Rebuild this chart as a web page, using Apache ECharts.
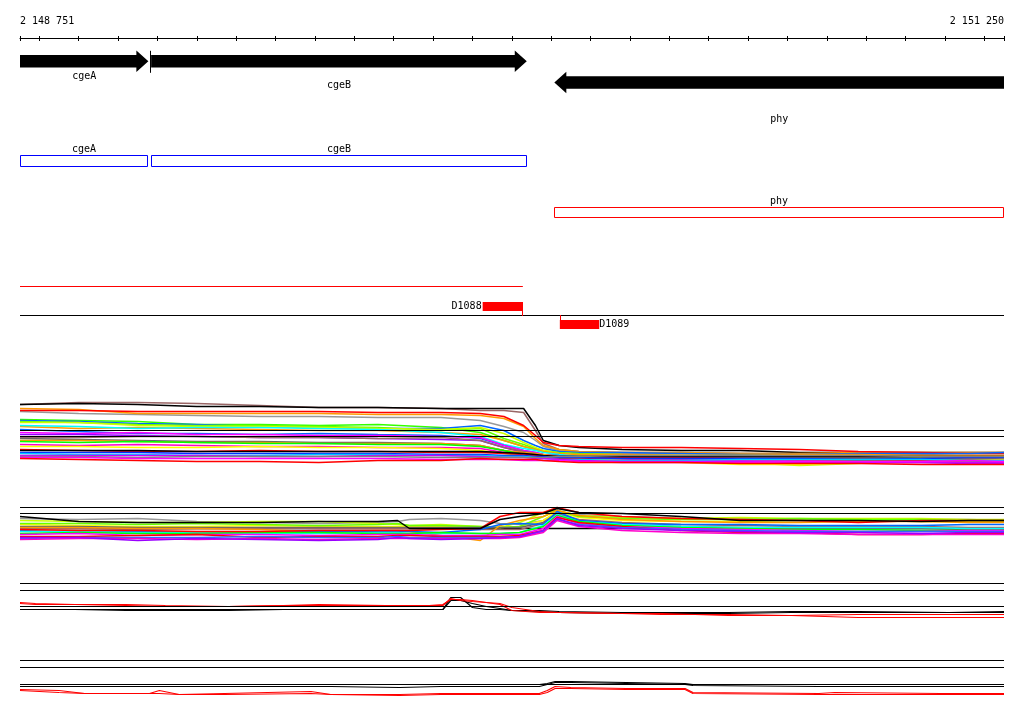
<!DOCTYPE html>
<html><head><meta charset="utf-8">
<script src="https://cdn.jsdelivr.net/npm/echarts@6/dist/echarts.min.js"></script>
<style>html,body{margin:0;padding:0;background:#fff}#c{width:1024px;height:714px}</style>
</head><body><div id="c"></div><script>
// ---------- axis ----------
const X_MIN = 2148751, X_MAX = 2151250;
const tickPositions = [2148751, 2148800, 2148900, 2149000, 2149100, 2149200, 2149300, 2149400, 2149500, 2149600, 2149700, 2149800, 2149900, 2150000, 2150100, 2150200, 2150300, 2150400, 2150500, 2150600, 2150700, 2150800, 2150900, 2151000, 2151100, 2151200, 2151250];
const tickLabels = [2148751, 2151250];

// ---------- genes ----------
const geneNames = ['cgeA', 'cgeB', 'phy'];
const geneStarts = [2148751, 2149084, 2150108];
const geneEnds = [2149077, 2150038, 2151250];
const geneStrands = [1, 1, -1];

// ---------- features ----------
const featNames = ['D1088', 'D1089'];
const featStarts = [2149926, 2150122];
const featEnds = [2150028, 2150222];
const featStrands = [1, -1];
const spanStarts = [2148751];
const spanEnds = [2150028];

// ---------- panel 1 ----------
const p1Pos = [2148751, 2148900, 2149050, 2149200, 2149360, 2149510, 2149660, 2149820, 2149920, 2149980, 2150030, 2150060, 2150080, 2150120, 2150170, 2150280, 2150430, 2150580, 2150730, 2150880, 2151040, 2151160, 2151250];
const p1Refs = [40, 34];
const p1Black   = [66,67,66,64,64,63,63,62,62,62,62,45,30,25,23,21,20,20,18,18,18,18,18];
const p1Brown   = [66,68,68,67,65,63,63,62,60,60,58,40,27,21,19,18,18,17,17,16,16,15,15];
const p1Red     = [60,60,59,59,59,59,58,58,57,54,45,35,28,25,24,23,23,22,21,19,18,17,17];
const p1Orange  = [62,61,57,57,57,57,56,56,55,52,44,32,25,21,19,18,18,17,17,18,18,18,18];
const p1Gray    = [59,57,56,55,54,54,53,53,50,44,38,30,24,20,18,17,17,17,16,15,15,15,15];
const p1Blue    = [50,49,47,46,44,43,42,42,45,40,30,25,22,19,18,18,17,16,16,17,17,17,18];
const p1Green   = [49,48,46,45,45,44,43,40,42,32,26,22,20,18,17,16,15,15,15,14,14,13,13];
const p1YGreen  = [48,48,45,44,44,43,42,41,43,37,28,23,20,17,15,14,12,8,5,7,12,14,14];
const p1Cyan    = [45,44,42,43,43,42,41,38,34,26,22,20,18,16,14,13,12,12,13,13,12,11,11];
const p1Magenta = [38,37,38,36,36,35,35,34,33,25,20,18,16,14,13,12,12,11,10,10,9,9,10];
const p1Purple  = [36,36,35,34,33,33,32,31,30,23,18,16,14,12,11,10,10,9,9,8,8,7,7];
const p1DGray   = [32,31,30,29,29,28,28,27,25,20,17,15,14,13,13,12,12,12,12,12,12,11,11];
const p1Green2  = [29,28,29,28,27,27,26,26,24,20,16,14,13,11,10,9,9,9,10,10,10,9,9];
const p1Orange2 = [30,30,29,28,28,27,27,27,25,20,18,17,16,14,14,15,15,15,15,15,14,14,14];
const p1Magenta2= [26,25,26,25,24,24,23,23,22,18,16,15,14,13,12,11,11,10,10,9,9,8,8];
const p1Yellow  = [24,24,23,23,24,23,23,22,20,17,15,14,13,12,11,10,8,6,6,8,10,10,11];
const p1Black2  = [20,20,20,19,19,19,19,19,19,18,17,16,15,14,14,14,14,14,14,14,14,14,14];
const p1Red2    = [21,20,19,19,20,19,19,18,18,17,16,15,13,12,12,13,13,12,11,11,10,10,10];
const p1Blue2   = [18,18,18,17,17,17,17,16,16,15,15,14,14,13,13,12,12,12,12,11,12,13,13];
const p1Cyan2   = [17,16,16,15,15,16,16,15,15,14,14,13,12,11,11,10,10,11,11,11,11,10,10];
const p1Purple2 = [15,15,15,15,14,14,15,15,14,13,13,12,12,11,10,9,9,9,8,8,8,8,8];
const p1Gray2   = [14,14,13,14,14,14,14,13,13,13,13,13,13,14,14,15,15,15,15,15,14,14,14];
const p1Red3    = [12,11,10,9,9,8,10,10,12,11,11,11,10,9,8,8,8,7,7,7,6,6,6];
const p1Magenta3= [13,13,12,12,12,12,12,11,11,11,10,10,10,10,9,8,8,8,9,9,9,10,9];
const p1Orange3 = [44,42,43,42,41,40,40,38,36,30,24,21,19,17,16,16,15,15,16,16,15,15,15];
const p1Blue3   = [41,39,37,37,36,37,36,35,32,25,20,18,16,15,14,14,13,13,13,12,12,12,12];
const p1Green3  = [51,50,49,46,46,45,46,43,38,30,24,21,19,16,15,14,14,14,13,13,13,13,13];
const p1Brown2  = [33,33,34,34,33,33,32,33,30,23,19,17,15,13,13,12,13,13,13,13,12,12,12];

// ---------- panel 2 ----------
const p2Pos = [2148751, 2148900, 2149050, 2149200, 2149360, 2149510, 2149660, 2149710, 2149740, 2149820, 2149920, 2149970, 2150020, 2150080, 2150115, 2150170, 2150280, 2150430, 2150580, 2150730, 2150880, 2151040, 2151160, 2151250];
const p2Refs = [38, 32];
const p2Black   = [29,24,23,23,23,24,24,25,17,17,17,26,29,32,37,33,32,29,25,25,25,24,25,25];
const p2Gray    = [27,26,27,24,23,22,23,24,26,27,25,22,21,25,33,31,29,27,27,26,26,26,26,25];
const p2YGreen  = [25,24,23,23,24,24,22,21,20,21,19,18,23,33,35,30,28,27,28,27,27,27,26,26];
const p2Green   = [22,22,21,22,21,20,21,22,20,20,19,18,19,29,35,29,27,26,26,27,26,26,25,25];
const p2Red     = [16,15,15,14,14,15,15,15,15,16,17,29,33,33,38,33,29,27,26,25,23,25,25,25];
const p2Orange  = [18,18,17,17,16,14,15,15,14,10,5,20,25,29,35,30,26,24,23,23,24,24,23,23];
const p2Blue    = [15,13,14,13,13,14,14,14,14,13,16,21,22,21,34,25,22,21,21,20,20,20,21,21];
const p2Cyan    = [14,14,13,13,12,12,13,13,12,12,12,12,13,20,31,24,21,19,18,18,18,18,17,17];
const p2Magenta = [11,12,10,11,11,10,11,11,11,10,10,11,11,17,29,22,19,17,16,15,14,14,15,15];
const p2Purple  = [8,8,5,7,6,5,6,8,7,6,7,8,9,15,27,20,17,15,14,13,13,12,13,13];
const p2DGray   = [19,19,18,18,18,18,18,18,18,18,18,18,18,23,32,25,21,19,18,17,17,17,16,16];
const p2Brown   = [17,17,16,17,17,17,17,17,17,17,16,16,16,22,32,26,23,21,20,19,19,19,18,18];
const p2Red2    = [9,9,10,11,8,9,9,10,10,9,9,9,10,15,28,23,19,15,13,13,11,11,12,12];
const p2Green2  = [12,13,12,12,13,13,12,12,12,13,12,12,13,19,30,24,20,18,17,16,16,15,15,15];
const p2Yellow  = [21,20,19,19,20,19,19,19,19,19,18,18,19,25,34,28,25,24,24,25,25,24,24,24];
const p2Blue2   = [7,8,8,8,9,8,8,9,8,8,8,8,9,14,26,21,18,16,15,14,14,14,14,14];
const p2Magenta2= [6,7,7,6,7,6,7,7,7,7,7,7,8,13,25,19,15,13,12,12,11,11,11,11];
const p2Black2  = [17,17,17,17,17,17,17,17,17,17,17,17,17,17,17,17,17,17,17,17,17,17,17,17];

// ---------- panel 3 ----------
const p3Pos = [2148751, 2148790, 2148890, 2149020, 2149120, 2149280, 2149420, 2149510, 2149680, 2149790, 2149825, 2149845, 2149870, 2149900, 2149935, 2149970, 2150000, 2150070, 2150120, 2150280, 2150380, 2150550, 2150710, 2150880, 2151110, 2151250];
const p3Refs = [37, 30, 14];
const p3Red    = [18,17,16,16,15,14,15,16,15,15,15,22,20,19,18,17,13,9,8,7,7,5,5,3,3,3];
const p3Red2   = [17,16,16,15,14,14,15,15,15,15,16,21,21,20,18,16,10,8,8,7,6,6,5,6,6,6];
const p3Black  = [11,11,11,11,11,11,11,11,11,11,11,23,23,13,11,11,10,10,9,8,8,8,9,9,8,9];
const p3Black2 = [11,11,11,10,10,10,11,11,11,11,11,20,20,17,14,12,10,9,8,7,7,7,8,8,8,8];

// ---------- panel 4 ----------
const p4Pos = [2148751, 2148850, 2148915, 2149080, 2149105, 2149155, 2149270, 2149490, 2149540, 2149715, 2149820, 2150000, 2150070, 2150090, 2150110, 2150150, 2150290, 2150440, 2150460, 2150780, 2150820, 2151090, 2151140, 2151250];
const p4Refs = [40, 33, 16];
const p4Red    = [11,10,7,7,10,6,7,9,6,6,7,7,7,10,14,13,12,12,8,7,8,7,7,7];
const p4Red2   = [10,8,7,7,7,6,6,7,6,5,6,6,6,8,12,12,11,11,7,6,6,6,6,6];
const p4Black  = [14,14,14,14,14,14,14,14,14,13,14,14,14,16,18,18,17,16,15,14,14,14,14,14];
const p4Black2 = [16,16,16,16,16,16,16,16,16,16,16,16,16,17,19,19,18,17,16,16,16,16,16,16];

// ================= rendering =================
const FONT_FAMILY = '"DejaVu Sans Mono", monospace';
const FONT = '10px ' + FONT_FAMILY;
const geneLabelDy = [15.2, 24.2, 36.5];

function fmt(v) { return String(v).replace(/\B(?=(\d{3})+(?!\d))/g, ' '); }
function txt(text, x, y, align) {
  return { type: 'text', style: { text: text, x: x, y: y, font: FONT, fill: '#000',
    align: align, textAlign: align, verticalAlign: 'middle', textVerticalAlign: 'middle' } };
}

function renderGene(params, api) {
  const s = api.value(0), e = api.value(1), strand = api.value(2), idx = api.value(3);
  const x1 = api.coord([s, 0])[0], x2 = api.coord([e, 0])[0];
  const top = params.coordSys.y;
  const cy = top + (strand > 0 ? 23.3 : 44.5);
  const hb = 6.3, hh = 10.8, hl = 12;
  let pts;
  if (strand > 0) pts = [[x1, cy - hb], [x2 - hl, cy - hb], [x2 - hl, cy - hh], [x2, cy], [x2 - hl, cy + hh], [x2 - hl, cy + hb], [x1, cy + hb]];
  else pts = [[x2, cy - hb], [x1 + hl, cy - hb], [x1 + hl, cy - hh], [x1, cy], [x1 + hl, cy + hh], [x1 + hl, cy + hb], [x2, cy + hb]];
  const children = [{ type: 'polygon', shape: { points: pts }, style: { fill: '#000' } }];
  if (strand > 0 && s > X_MIN) {
    const lx = Math.round(x1) - 0.5;
    children.push({ type: 'line', shape: { x1: lx, y1: cy - 10.5, x2: lx, y2: cy + 11.5 }, style: { stroke: '#000', lineWidth: 1 } });
  }
  children.push(txt(geneNames[idx], (x1 + x2) / 2, cy + geneLabelDy[idx], 'center'));
  return { type: 'group', children: children };
}

function renderBox(params, api) {
  const s = api.value(0), e = api.value(1), strand = api.value(2), idx = api.value(3);
  const x1 = Math.round(api.coord([s, 0])[0]) + 0.5, x2 = Math.round(api.coord([e, 0])[0]) - 0.5;
  const top = params.coordSys.y;
  const y = top + (strand > 0 ? 117.5 : 169.5);
  const h = strand > 0 ? 11 : 10;
  const color = strand > 0 ? '#0000ff' : '#ff0000';
  return { type: 'group', children: [
    { type: 'rect', shape: { x: x1, y: y, width: x2 - x1, height: h }, style: { fill: 'none', stroke: color, lineWidth: 1 } },
    txt(geneNames[idx], (x1 + x2) / 2, y - 6.5, 'center')
  ] };
}

function renderSpan(params, api) {
  const x1 = api.coord([api.value(0), 0])[0], x2 = api.coord([api.value(1), 0])[0];
  const top = params.coordSys.y;
  return { type: 'line', shape: { x1: x1, y1: top + 248.5, x2: x2, y2: top + 248.5 }, style: { stroke: '#ff0000', lineWidth: 1 } };
}

function renderBaseline(params, api) {
  const x1 = api.coord([api.value(0), 0])[0], x2 = api.coord([api.value(1), 0])[0];
  const top = params.coordSys.y;
  return { type: 'line', shape: { x1: x1, y1: top + 277.5, x2: x2, y2: top + 277.5 }, style: { stroke: '#000', lineWidth: 1 } };
}

function renderFeature(params, api) {
  const s = api.value(0), e = api.value(1), strand = api.value(2), idx = api.value(3);
  const x1 = api.coord([s, 0])[0], x2 = api.coord([e, 0])[0];
  const top = params.coordSys.y;
  const base = top + 277;
  const children = [];
  if (strand > 0) {
    const ry = top + 264;
    children.push({ type: 'rect', shape: { x: x1, y: ry, width: x2 - x1, height: 9 }, style: { fill: '#ff0000' } });
    const tx = Math.round(x2) - 0.5;
    children.push({ type: 'line', shape: { x1: tx, y1: ry, x2: tx, y2: base + 1 }, style: { stroke: '#ff0000', lineWidth: 1 } });
    children.push(txt(featNames[idx], x1 - 1, ry + 4.5, 'right'));
  } else {
    const ry = top + 282;
    children.push({ type: 'rect', shape: { x: x1, y: ry, width: x2 - x1, height: 9 }, style: { fill: '#ff0000' } });
    const tx = Math.round(x1) + 0.5;
    children.push({ type: 'line', shape: { x1: tx, y1: base, x2: tx, y2: ry + 9 }, style: { stroke: '#ff0000', lineWidth: 1 } });
    children.push(txt(featNames[idx], x2, ry + 4.5, 'left'));
  }
  return { type: 'group', children: children };
}

const series = [
  { type: 'custom', xAxisIndex: 0, yAxisIndex: 0, renderItem: renderGene, silent: true,
    data: geneNames.map((n, i) => [geneStarts[i], geneEnds[i], geneStrands[i], i]), encode: { x: [0, 1] } },
  { type: 'custom', xAxisIndex: 0, yAxisIndex: 0, renderItem: renderBox, silent: true,
    data: geneNames.map((n, i) => [geneStarts[i], geneEnds[i], geneStrands[i], i]), encode: { x: [0, 1] } },
  { type: 'custom', xAxisIndex: 0, yAxisIndex: 0, renderItem: renderSpan, silent: true,
    data: spanStarts.map((s, i) => [s, spanEnds[i]]), encode: { x: [0, 1] } },
  { type: 'custom', xAxisIndex: 0, yAxisIndex: 0, renderItem: renderBaseline, silent: true,
    data: [[X_MIN, X_MAX]], encode: { x: [0, 1] } },
  { type: 'custom', xAxisIndex: 0, yAxisIndex: 0, renderItem: renderFeature, silent: true,
    data: featNames.map((n, i) => [featStarts[i], featEnds[i], featStrands[i], i]), encode: { x: [0, 1] } }
];

function addPanel(axisIdx, pos, lines, refs, width) {
  lines.forEach(function (l) {
    series.push({ type: 'line', xAxisIndex: axisIdx, yAxisIndex: axisIdx, silent: true, animation: false,
      showSymbol: false, symbol: 'none', lineStyle: { color: l[1], width: width },
      data: pos.map((p, i) => [p, l[0][i]]) });
  });
  refs.forEach(function (v) {
    series.push({ type: 'line', xAxisIndex: axisIdx, yAxisIndex: axisIdx, silent: true, animation: false,
      showSymbol: false, symbol: 'none', lineStyle: { color: '#000', width: 1 }, z: 3,
      data: [[X_MIN, v], [X_MAX, v]] });
  });
}

addPanel(2, p1Pos, [
  [p1Brown, '#996666'], [p1Black, '#000000'], [p1Gray, '#999999'], [p1Orange, '#ff9900'], [p1Red, '#ff0000'],
  [p1Green3, '#33ff00'], [p1Blue, '#0066ff'], [p1Green, '#66ff00'], [p1YGreen, '#ccff00'], [p1Orange3, '#ff9900'],
  [p1Cyan, '#00ffff'], [p1Blue3, '#0066ff'], [p1Magenta, '#ff00ff'], [p1Purple, '#9900ff'], [p1Brown2, '#996666'],
  [p1DGray, '#666666'], [p1Orange2, '#ff9900'], [p1Green2, '#00ff00'], [p1Magenta2, '#ff00cc'], [p1Yellow, '#ffff00'],
  [p1Red2, '#ff0000'], [p1Black2, '#000000'], [p1Blue2, '#0033ff'], [p1Cyan2, '#00ccff'], [p1Purple2, '#cc00ff'],
  [p1Gray2, '#808080'], [p1Magenta3, '#ff00ff'], [p1Red3, '#ff0000']
], p1Refs, 1.5);

addPanel(3, p2Pos, [
  [p2Black2, '#000000'], [p2Gray, '#999999'], [p2YGreen, '#ccff00'], [p2Yellow, '#ffff00'], [p2Green, '#66ff00'],
  [p2DGray, '#666666'], [p2Brown, '#996666'], [p2Orange, '#ff9900'], [p2Blue, '#0066ff'], [p2Cyan, '#00ffff'],
  [p2Green2, '#00ff00'], [p2Magenta, '#ff00ff'], [p2Red2, '#ff0000'], [p2Blue2, '#3366ff'], [p2Magenta2, '#ff00cc'],
  [p2Purple, '#9900ff'], [p2Red, '#ff0000'], [p2Black, '#000000']
], p2Refs, 1.5);

addPanel(4, p3Pos, [
  [p3Black2, '#000000'], [p3Black, '#000000'], [p3Red2, '#ff0000'], [p3Red, '#ff0000']
], p3Refs, 1.2);

addPanel(5, p4Pos, [
  [p4Black2, '#000000'], [p4Black, '#000000'], [p4Red2, '#ff0000'], [p4Red, '#ff0000']
], p4Refs, 1.2);

const hiddenX = (gi) => ({ type: 'value', gridIndex: gi, min: X_MIN, max: X_MAX, show: false });
const option = {
  animation: false,
  backgroundColor: '#ffffff',
  grid: [
    { left: 20, right: 20, top: 38, height: 300 },
    { left: 20, right: 20, top: 38, height: 1 },
    { left: 20, right: 20, top: 395.5, height: 75 },
    { left: 20, right: 20, top: 500.5, height: 45 },
    { left: 20, right: 20, top: 575.5, height: 45 },
    { left: 20, right: 20, top: 655.5, height: 45 }
  ],
  xAxis: [
    { type: 'value', gridIndex: 0, position: 'top', min: X_MIN, max: X_MAX,
      axisLine: { show: true, onZero: false, lineStyle: { color: '#000', width: 1 } },
      axisTick: { show: true, inside: false, length: 2, customValues: tickPositions, lineStyle: { color: '#000' } },
      axisLabel: { show: true, customValues: tickLabels, formatter: fmt, margin: 12, color: '#000',
        fontFamily: FONT_FAMILY, fontSize: 10, alignMinLabel: 'left', alignMaxLabel: 'right' },
      splitLine: { show: false } },
    { type: 'value', gridIndex: 1, position: 'top', min: X_MIN, max: X_MAX,
      axisLine: { show: false, onZero: false },
      axisTick: { show: true, inside: true, length: 3, customValues: tickPositions, lineStyle: { color: '#000' } },
      axisLabel: { show: false }, splitLine: { show: false } },
    hiddenX(2), hiddenX(3), hiddenX(4), hiddenX(5)
  ],
  yAxis: [
    { type: 'value', gridIndex: 0, min: 0, max: 300, show: false },
    { type: 'value', gridIndex: 1, min: 0, max: 1, show: false },
    { type: 'value', gridIndex: 2, min: 0, max: 75, show: false },
    { type: 'value', gridIndex: 3, min: 0, max: 45, show: false },
    { type: 'value', gridIndex: 4, min: 0, max: 45, show: false },
    { type: 'value', gridIndex: 5, min: 0, max: 45, show: false }
  ],
  series: series
};
const chart = echarts.init(document.getElementById('c'), null, { renderer: 'canvas' });
chart.setOption(option);
</script></body></html>
